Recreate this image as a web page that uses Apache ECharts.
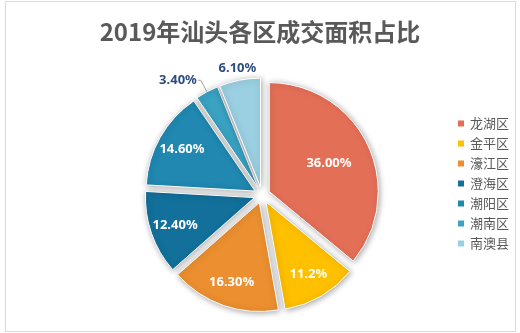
<!DOCTYPE html>
<html><head><meta charset="utf-8">
<script src="https://cdn.jsdelivr.net/npm/echarts@6/dist/echarts.min.js"></script>
<style>
html,body{margin:0;padding:0;background:#fff}
#frame{position:absolute;left:5px;top:1px;width:511px;height:331px;border:1px solid #d9d9d9;box-sizing:border-box}
#chart{position:absolute;left:0;top:0;width:520px;height:333px}
</style>
</head><body><div id="frame"></div><div id="chart"></div>
<script>
const titleText = '2019年汕头各区成交面积占比';
const categories = ['龙湖区','金平区','濠江区','澄海区','潮阳区','潮南区','南澳县'];
const values = [36.0, 11.2, 16.3, 12.4, 14.6, 3.4, 6.1];
const labelTexts = ['36.00%','11.2%','16.30%','12.40%','14.60%','3.40%','6.10%'];
const colors = ['#E46F57','#FFC000','#EB8F30','#12709B','#2088B1','#3AA2C2','#9BD0E2'];
const labelRing = ['mid','far','far','far','far','line','out'];

const CENTER = [262, 195], R = 109, OFF = 8;
const rings = { mid: [40, 86], far: [62, 100], out: [108, 128] };
const FONT = 'Noto Sans';

function base(extra) {
  return Object.assign({
    type: 'pie', center: CENTER, startAngle: 90, clockwise: true,
    selectedMode: 'multiple', selectedOffset: OFF, avoidLabelOverlap: false,
    animation: false, silent: true, emphasis: { disabled: true }
  }, extra);
}

const series = [];
series.push(base({
  name: 'main', radius: [0, R],
  itemStyle: { borderColor: '#ffffff', borderWidth: 1, shadowBlur: 6, shadowColor: 'rgba(0,0,0,0.35)', shadowOffsetX: 1, shadowOffsetY: 1 },
  label: { position: 'outside', formatter: p => labelTexts[p.dataIndex], color: '#2E4C80', fontWeight: 'bold', fontSize: 13, fontFamily: FONT, distanceToLabelLine: 1 },
  labelLine: { length: 13, length2: 3, lineStyle: { color: '#A6A6A6', width: 1 } },
  data: categories.map((n, i) => ({
    name: n, value: values[i], selected: true,
    itemStyle: { color: colors[i] },
    label: { show: labelRing[i] === 'line' },
    labelLine: { show: labelRing[i] === 'line' }
  }))
}));

Object.keys(rings).forEach(key => {
  series.push(base({
    name: 'ring-' + key, radius: rings[key],
    itemStyle: { color: 'rgba(0,0,0,0)', borderWidth: 0 },
    label: { position: 'inside', formatter: p => labelTexts[p.dataIndex],
      color: key === 'out' ? '#2E4C80' : '#ffffff', fontWeight: 'bold', fontSize: 13, fontFamily: FONT },
    labelLine: { show: false },
    data: categories.map((n, i) => ({
      name: n, value: values[i], selected: true,
      label: { show: labelRing[i] === key }
    }))
  }));
});

const chart = echarts.init(document.getElementById('chart'), null, { renderer: 'canvas' });
chart.setOption({
  backgroundColor: 'transparent',
  title: { text: titleText, left: 'center', top: 15,
    textStyle: { fontSize: 24, fontWeight: 'bold', color: '#595959', fontFamily: 'Noto Sans CJK SC' } },
  legend: {
    orient: 'vertical', left: 451, top: 112, icon: 'rect', itemWidth: 8, itemHeight: 8, itemGap: 7,
    data: categories,
    textStyle: { fontSize: 13, color: '#595959', fontFamily: 'Noto Sans CJK SC' }
  },
  series: series
});
</script>
</body></html>
